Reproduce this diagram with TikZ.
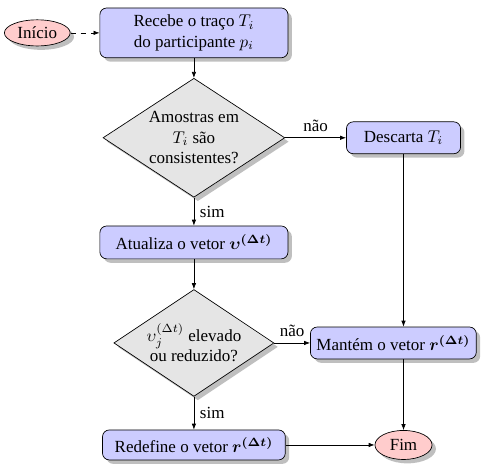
\documentclass[tikz,border=0pt]{standalone}
\usepackage{amsmath,amssymb}
\usepackage{fontspec}
\setmainfont{Liberation Serif}[Ligatures=TeX]
\newfontfamily\timesfam{Liberation Serif}[Ligatures=TeX]
\usepackage{tikz}
\usetikzlibrary{arrows.meta,positioning,shapes.geometric,shadows}

\begin{document}
\begin{tikzpicture}[
  font=\timesfam,
  proc/.style={draw,rounded corners,fill=blue!20,align=center,inner sep=3pt,drop shadow},
  decisao/.style={diamond,draw,fill=gray!20,align=center,inner sep=0pt,drop shadow},
  term/.style={ellipse,draw,fill=red!20,inner sep=1pt,drop shadow},
  arr/.style={-{Latex[length=3.5pt]},thin}
]
  \useasboundingbox (-4.01,0.68) rectangle (6.04,-8.91);
  \node[proc,minimum width=3.89cm,minimum height=1.03cm] (rec) at (0,0) {Recebe o traço $T_i$\\do participante $p_i$};
  \node[term,minimum width=1.36cm,minimum height=0.54cm,left=0.6cm of rec] (ini) {Início};
  \node[decisao,aspect=1.53,minimum width=3.76cm,minimum height=2.46cm,below=0.41cm of rec] (d1) {Amostras em\\$T_i$ são\\consistentes?};
  \node[proc,minimum width=2.36cm,minimum height=0.66cm,right=1.26cm of d1] (desc) {Descarta $T_i$};
  \node[proc,minimum width=3.89cm,minimum height=0.68cm,below=0.58cm of d1] (atu) {Atualiza o vetor $\boldsymbol{\upsilon}^{\boldsymbol{(\Delta t)}}$};
  \node[decisao,aspect=1.5,minimum width=3.31cm,minimum height=2.21cm,below=0.62cm of atu] (d2) {$\upsilon_j^{(\Delta t)}$ elevado\\ou reduzido?};
  \node[proc,minimum width=3.43cm,minimum height=0.66cm,right=0.74cm of d2] (mant) {Mantém o vetor $\boldsymbol{r}^{\boldsymbol{(\Delta t)}}$};
  \node[proc,minimum width=3.78cm,minimum height=0.62cm,below=0.68cm of d2] (redef) {Redefine o vetor $\boldsymbol{r}^{\boldsymbol{(\Delta t)}}$};
  \node[term,minimum width=1.18cm,minimum height=0.6cm] (fim) at (desc |- redef) {Fim};

  \draw[arr,dashed] (ini) -- (rec);
  \draw[arr] (rec) -- (d1);
  \draw[arr] (d1) -- node[right] {sim} (atu);
  \draw[arr] (d1) -- node[above] {não} (desc);
  \draw[arr] (atu) -- (d2);
  \draw[arr] (d2) -- node[right] {sim} (redef);
  \draw[arr] (d2) -- node[above] {não} (mant);
  \draw[arr] (desc) -- (desc |- mant.north);
  \draw[arr] (mant.south -| fim) -- (fim);
  \draw[arr] (redef) -- (fim);
\end{tikzpicture}
\end{document}
